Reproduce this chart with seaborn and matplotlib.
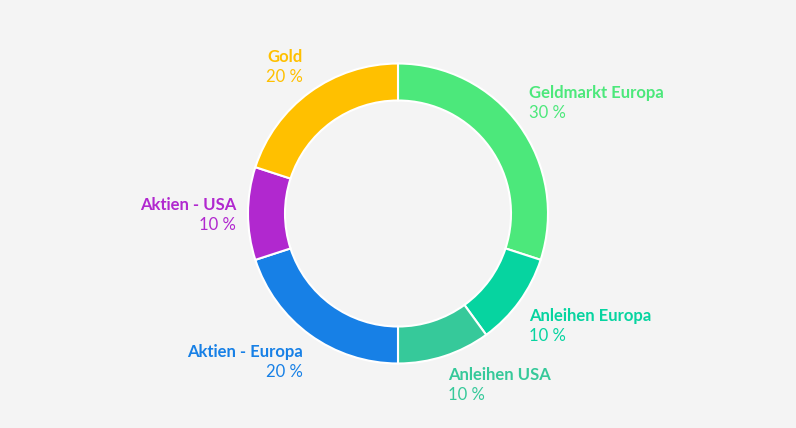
import numpy as np
import matplotlib.pyplot as plt
import seaborn as sns

sns.set_theme(style="white")
plt.rcParams['font.family'] = ['Lato', 'DejaVu Sans']

labels = ["Geldmarkt Europa", "Anleihen Europa", "Anleihen USA",
          "Aktien - Europa", "Aktien - USA", "Gold"]
shares = [30, 10, 10, 20, 10, 20]
colors = ["#4ce87b", "#06d4a0", "#36c99a", "#1780e6", "#b128cf", "#ffc000"]

bg = "#f4f4f4"
fig = plt.figure(figsize=(7.96, 4.28), dpi=100, facecolor=bg)
ax = fig.add_axes([0, 0, 1, 1])
ax.set_facecolor(bg)

cx, cy, r = 398, 214.5, 150
ax.pie(shares, colors=colors, startangle=90, counterclock=False,
       center=(cx, cy), radius=r,
       wedgeprops=dict(width=37, edgecolor="white", linewidth=1.5))

ax.set_xlim(0, 796)
ax.set_ylim(0, 428)
ax.set_aspect("equal")
ax.axis("off")

# labels around the ring, anchored at the middle angle of each slice
cum = np.cumsum([0] + shares[:-1])
for name, val, col, start in zip(labels, shares, colors, cum):
    mid = np.deg2rad(90 - (start + val / 2) * 3.6)
    lx = cx + np.cos(mid) * 162
    ly = cy + np.sin(mid) * 162
    ha = "left" if np.cos(mid) > 0.01 else "right"
    if np.sin(mid) > 0.1:
        y_name, y_val = ly + 20, ly
    elif np.sin(mid) < -0.1:
        y_name, y_val = ly - 12, ly - 32
    else:
        y_name, y_val = ly + 4, ly - 16
    ax.text(lx, y_name, name, color=col, fontsize=12, fontweight="bold",
            ha=ha, va="baseline")
    ax.text(lx, y_val, f"{val} %", color=col, fontsize=12,
            ha=ha, va="baseline")

fig.savefig("out.png", dpi=100, facecolor=bg)
